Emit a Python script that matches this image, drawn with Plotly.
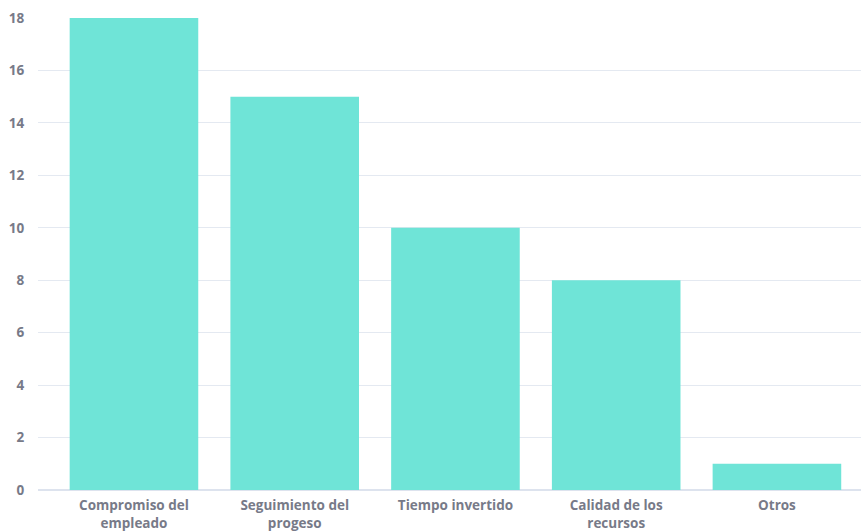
import plotly.graph_objects as go

categories = ["Compromiso del<br>empleado", "Seguimiento del<br>progeso", "Tiempo invertido",
              "Calidad de los<br>recursos", "Otros"]
values = [18, 15, 10, 8, 1]
y_ticks = [0, 2, 4, 6, 8, 10, 12, 14, 16, 18]

FONT = "Open Sans"
COLOR = "#777a88"

fig = go.Figure(go.Bar(x=list(range(len(categories))), y=values, marker_color="#6fe4d7",
                       marker_line_width=0, width=0.8))

fig.update_layout(
    width=861, height=531,
    margin=dict(l=38, r=0, t=18, b=41),
    plot_bgcolor="white", paper_bgcolor="white",
    showlegend=False,
    font=dict(family=FONT, color=COLOR, size=13),
)
fig.update_xaxes(
    tickmode="array", tickvals=list(range(len(categories))), ticktext=categories,
    range=[-0.597, 4.523], showgrid=False, zeroline=False, showline=False,
    ticks="outside", ticklen=3, tickcolor="rgba(0,0,0,0)", automargin=False,
    tickfont=dict(size=13.5, weight="bold", family=FONT, color=COLOR),
)
fig.update_yaxes(
    range=[0, 18], tickvals=y_ticks, showgrid=True, gridcolor="#e4e9f1", gridwidth=1,
    zeroline=True, zerolinecolor="#dde3ee", zerolinewidth=2, showline=False,
    ticks="outside", ticklen=10, tickcolor="rgba(0,0,0,0)", automargin=False,
    tickfont=dict(size=13.5, weight="bold", family=FONT, color=COLOR),
)

fig.write_html("out.html")
